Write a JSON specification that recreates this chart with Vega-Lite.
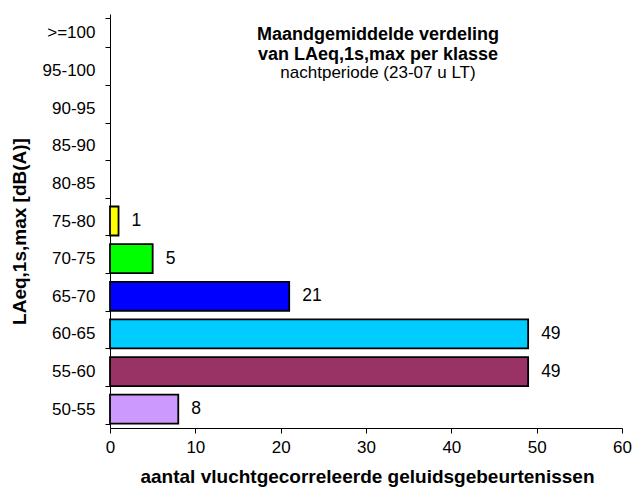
{
  "$schema": "https://vega.github.io/schema/vega-lite/v6.json",
  "autosize": {"type": "none"},
  "width": 512,
  "height": 414,
  "padding": {"left": 110, "top": 14, "right": 12, "bottom": 62},
  "background": "white",
  "config": {
    "view": {"stroke": null},
    "font": "Liberation Sans"
  },
  "title": {
    "text": ["Maandgemiddelde verdeling", "van LAeq,1s,max per klasse"],
    "subtitle": "nachtperiode (23-07 u LT)",
    "anchor": "middle",
    "frame": "group",
    "font": "Liberation Sans",
    "fontSize": 18,
    "fontWeight": "bold",
    "color": "black",
    "lineHeight": 20,
    "subtitleFont": "Liberation Sans",
    "subtitleFontSize": 17,
    "subtitleColor": "black",
    "subtitlePadding": 1,
    "dx": 12,
    "dy": 80
  },
  "data": {
    "values": [
      {"klasse": "50-55", "aantal": 8, "kleur": "#CC99FF"},
      {"klasse": "55-60", "aantal": 49, "kleur": "#993366"},
      {"klasse": "60-65", "aantal": 49, "kleur": "#00CCFF"},
      {"klasse": "65-70", "aantal": 21, "kleur": "#0000FF"},
      {"klasse": "70-75", "aantal": 5, "kleur": "#00FF00"},
      {"klasse": "75-80", "aantal": 1, "kleur": "#FFFF00"},
      {"klasse": "80-85", "aantal": null, "kleur": "#FFFFFF"},
      {"klasse": "85-90", "aantal": null, "kleur": "#FFFFFF"},
      {"klasse": "90-95", "aantal": null, "kleur": "#FFFFFF"},
      {"klasse": "95-100", "aantal": null, "kleur": "#FFFFFF"},
      {"klasse": ">=100", "aantal": null, "kleur": "#FFFFFF"}
    ]
  },
  "encoding": {
    "y": {
      "field": "klasse",
      "type": "nominal",
      "sort": [">=100", "95-100", "90-95", "85-90", "80-85", "75-80", "70-75", "65-70", "60-65", "55-60", "50-55"],
      "scale": {
        "domain": [">=100", "95-100", "90-95", "85-90", "80-85", "75-80", "70-75", "65-70", "60-65", "55-60", "50-55"],
        "paddingInner": 0.23,
        "paddingOuter": 0.115
      },
      "axis": {
        "title": "LAeq,1s,max [dB(A)]",
        "titleFont": "Liberation Sans",
        "titleFontSize": 19,
        "titleFontWeight": "bold",
        "titleColor": "black",
        "titleX": -91,
        "titleY": 217,
        "titleAngle": -90,
        "titleBaseline": "middle",
        "titleAlign": "center",
        "labelFont": "Liberation Sans",
        "labelFontSize": 17,
        "labelColor": "black",
        "labelPadding": 10,
        "tickSize": 5,
        "tickColor": "black",
        "domainColor": "black",
        "tickBand": "extent",
        "grid": false
      }
    },
    "x": {
      "field": "aantal",
      "type": "quantitative",
      "scale": {"domain": [0, 60], "nice": false},
      "axis": {
        "title": "aantal vluchtgecorreleerde geluidsgebeurtenissen",
        "titleFont": "Liberation Sans",
        "titleFontSize": 19,
        "titleFontWeight": "bold",
        "titleColor": "black",
        "titlePadding": 12,
        "titleX": 257,
        "labelFont": "Liberation Sans",
        "labelFontSize": 17,
        "labelColor": "black",
        "labelPadding": 6,
        "labelFlush": false,
        "labelOverlap": false,
        "tickSize": 5,
        "tickColor": "black",
        "domainColor": "black",
        "values": [0, 10, 20, 30, 40, 50, 60],
        "grid": false
      }
    }
  },
  "layer": [
    {
      "transform": [{"filter": "datum.aantal != null"}],
      "mark": {"type": "bar", "stroke": "black", "strokeWidth": 1.8},
      "encoding": {
        "color": {"field": "kleur", "type": "nominal", "scale": null, "legend": null}
      }
    },
    {
      "transform": [{"filter": "datum.aantal != null"}],
      "mark": {"type": "text", "align": "left", "baseline": "middle", "dx": 13, "fontSize": 17.5, "font": "Liberation Sans", "color": "black"},
      "encoding": {
        "text": {"field": "aantal", "type": "quantitative"}
      }
    }
  ]
}
